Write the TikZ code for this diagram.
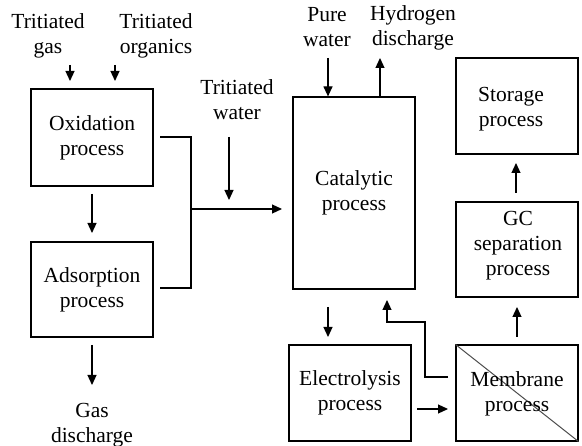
\documentclass[tikz,border=0pt]{standalone}
\usepackage{fontspec}
\setmainfont{Liberation Serif}
\usetikzlibrary{arrows.meta}
\begin{document}
\begin{tikzpicture}[x=1pt,y=-1pt,
  every node/.style={font=\fontsize{21.5}{25}\selectfont, align=center, inner sep=0pt},
  procbox/.style={draw, line width=1.2pt, minimum width=122pt},
  lbl/.style={},
  conn/.style={line width=1.2pt},
  arr/.style={line width=1.2pt, -{Triangle[width=9pt,length=10pt]}}]
\useasboundingbox (0,0) rectangle (582,446);
% boxes
\node[procbox, minimum height=97pt] (ox) at (92,137.5) {Oxidation\\process};
\node[procbox, minimum height=95pt] (ad) at (92,289.5) {Adsorption\\process};
\node[procbox, minimum height=192pt] (cat) at (354,193) {Catalytic\\process};
\node[procbox, minimum height=96pt] (st) at (517,106) {};
\node (stt) at (511,109) {Storage\\process};
\node[procbox, minimum height=95pt] (gc) at (517,249.5) {};
\node (gct) at (518,246) {GC\\separation\\process};
\node[procbox, minimum height=96pt] (el) at (350,393) {Electrolysis\\process};
\node[procbox, minimum height=96pt] (mem) at (517,393) {};
\draw[gray!60!black, line width=1pt] (mem.north west) -- (mem.south east);
\node (memt) at (517,394) {Membrane\\process};
% labels
\node[lbl] (tgas) at (48,35.5) {Tritiated\\gas};
\node[lbl] (torg) at (156,35.5) {Tritiated\\organics};
\node[lbl] (twat) at (237,100) {Tritiated\\water};
\node[lbl] (pure) at (327,27.5) {Pure\\water};
\node[lbl] (hyd) at (413,27.5) {Hydrogen\\discharge};
\node[lbl] (gasd) at (92,425) {Gas\\discharge};
% arrow end points
\coordinate (g1) at (70,65);   \coordinate (g2) at (70,81);
\coordinate (o1) at (115,65);  \coordinate (o2) at (115,81);
\coordinate (w1) at (229,137); \coordinate (w2) at (229,200);
\coordinate (oxo) at (160,137); \coordinate (ado) at (160,288);
\coordinate (j1) at (191,137); \coordinate (j2) at (191,288);
\coordinate (jm) at (191,209); \coordinate (jt) at (282,209);
\coordinate (oa1) at (92,194); \coordinate (oa2) at (92,233);
\coordinate (ag1) at (92,345); \coordinate (ag2) at (92,385);
\coordinate (p1) at (328,58);
\coordinate (h2) at (380,58);
\coordinate (gs1) at (516,193); \coordinate (gs2) at (516,163);
\coordinate (mg1) at (517,337); \coordinate (mg2) at (517,307);
\coordinate (ce1) at (328,307); \coordinate (ce2) at (328,337);
\coordinate (mc1) at (448,377); \coordinate (mc2) at (425,377);
\coordinate (mc3) at (425,322); \coordinate (mc4) at (387,322);
\coordinate (mc5) at (387,300);
\coordinate (em1) at (417,409); \coordinate (em2) at (448,409);
% connectors
\draw[arr] (g1) -- (g2);
\draw[arr] (o1) -- (o2);
\draw[arr] (w1) -- (w2);
\draw[conn] (oxo) -- (j1) -- (j2) -- (ado);
\draw[arr] (jm) -- (jt);
\draw[arr] (oa1) -- (oa2);
\draw[arr] (ag1) -- (ag2);
\draw[arr] (p1) -- (p1 |- cat.north);
\draw[arr] (h2 |- cat.north) -- (h2);
\draw[arr] (gs1) -- (gs2);
\draw[arr] (mg1) -- (mg2);
\draw[arr] (ce1) -- (ce2);
\draw[arr] (mc1) -- (mc2) -- (mc3) -- (mc4) -- (mc5);
\draw[arr] (em1) -- (em2);
\end{tikzpicture}
\end{document}
